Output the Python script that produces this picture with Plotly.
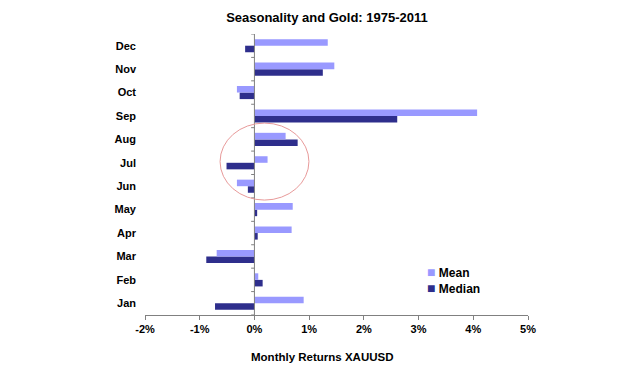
import plotly.graph_objects as go

months = ["Jan", "Feb", "Mar", "Apr", "May", "Jun", "Jul", "Aug", "Sep", "Oct", "Nov", "Dec"]
mean_ret = [0.90, 0.07, -0.69, 0.68, 0.70, -0.32, 0.24, 0.57, 4.07, -0.32, 1.46, 1.34]
median_ret = [-0.72, 0.15, -0.88, 0.06, 0.05, -0.12, -0.51, 0.79, 2.61, -0.27, 1.25, -0.17]
x_ticks = [-2, -1, 0, 1, 2, 3, 4, 5]
x_tick_labels = ["-2%", "-1%", "0%", "1%", "2%", "3%", "4%", "5%"]
series_names = ["Mean", "Median"]

FONT = "Liberation Sans, Arial, sans-serif"
MEAN_C = "#9999FF"
MED_C = "#2E2E8C"

fig = go.Figure()
fig.add_trace(go.Bar(y=months, x=median_ret, orientation="h", name="Median",
                     marker=dict(color=MED_C, line=dict(width=0)), showlegend=False))
fig.add_trace(go.Bar(y=months, x=mean_ret, orientation="h", name="Mean",
                     marker=dict(color=MEAN_C, line=dict(width=0)), showlegend=False))

shapes = [dict(type="line", xref="x", yref="paper", x0=0, x1=0, y0=0, y1=1,
               line=dict(color="#808080", width=1))]
for i in range(len(months) + 1):
    shapes.append(dict(type="line", xref="x", yref="y", x0=-0.06, x1=0,
                       y0=i - 0.5, y1=i - 0.5, line=dict(color="#808080", width=1)))
shapes.append(dict(type="circle", xref="paper", yref="paper", x0=0.196, x1=0.428,
                   y0=0.409, y1=0.683, line=dict(color="#E89A9A", width=1)))

legend_ann = []
for name, col, yp in zip(series_names, [MEAN_C, MED_C], [0.153, 0.096]):
    legend_ann.append(dict(
        text=f"<span style='color:{col};font-size:14px'>■</span> {name}",
        xref="paper", yref="paper", x=0.730, y=yp, xanchor="left", yanchor="middle",
        showarrow=False, font=dict(family=FONT, size=12, color="black", weight="bold")))

fig.update_layout(
    width=640, height=376,
    margin=dict(l=145, r=112, t=34, b=61),
    paper_bgcolor="white", plot_bgcolor="white",
    barmode="group", bargap=0.44, bargroupgap=0,
    font=dict(family=FONT, size=11, color="black"),
    title=dict(text="Seasonality and Gold: 1975-2011", x=0.475, xanchor="center",
               xref="paper", y=1 - 17 / 376, yref="container", yanchor="middle",
               font=dict(family=FONT, size=13, color="black", weight="bold")),
    xaxis=dict(range=[-2, 5], tickvals=x_ticks, ticktext=x_tick_labels,
               showgrid=False, zeroline=False, showline=True, linecolor="#808080",
               linewidth=1, ticks="outside", ticklen=4, tickcolor="#808080",
               tickfont=dict(family=FONT, size=11, color="black", weight="bold")),
    yaxis=dict(categoryorder="array", categoryarray=months, range=[-0.5, 11.5],
               showgrid=False, zeroline=False, showline=False, ticks="",
               ticklabelstandoff=8,
               tickfont=dict(family=FONT, size=11, color="black", weight="bold")),
    showlegend=False,
    shapes=shapes,
    annotations=[dict(text="Monthly Returns XAUUSD", xref="paper", yref="paper",
                      x=0.462, y=-0.149, xanchor="center", yanchor="middle",
                      showarrow=False,
                      font=dict(family=FONT, size=11.5, color="black", weight="bold"))]
                + legend_ann,
)

fig.write_html("out.html")
